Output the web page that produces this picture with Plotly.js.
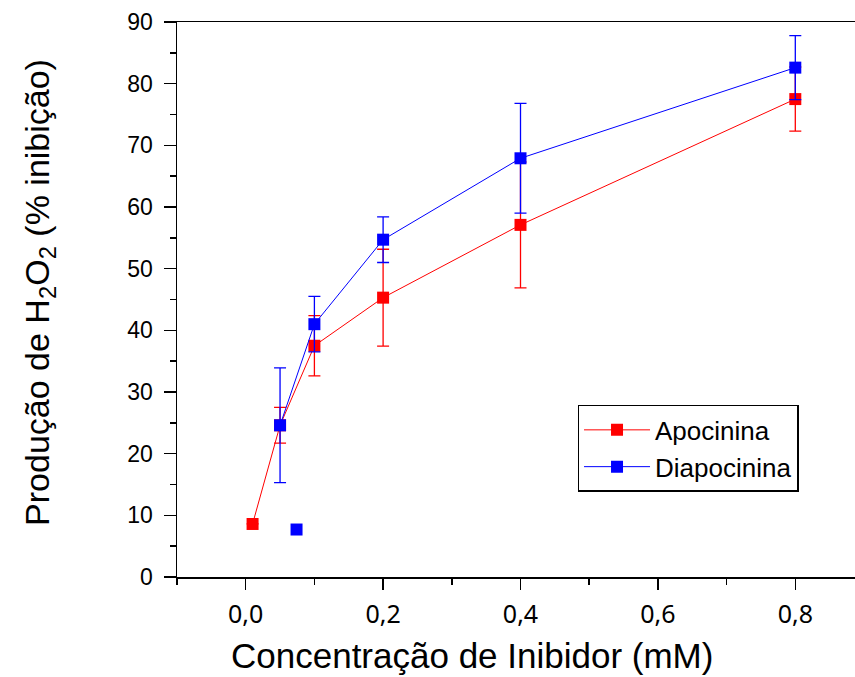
<!DOCTYPE html>
<html>
<head>
<meta charset="utf-8">
<script src="https://cdn.plot.ly/plotly-3.0.1.min.js"></script>
<style>
html,body{margin:0;padding:0;overflow:hidden;background:#fff;}
#chart{width:864px;height:677px;}
</style>
</head>
<body>
<div id="chart"></div>
<script>
// Apocinina
var apoX = [0.01, 0.05, 0.1, 0.2, 0.4, 0.8];
var apoY = [8.6, 24.6, 37.5, 45.3, 57.1, 77.5];
var apoErr = [0, 2.9, 4.9, 7.85, 10.2, 5.2];
// Diapocinina
var diaX = [0.05, 0.1, 0.2, 0.4, 0.8];
var diaY = [24.6, 41.0, 54.7, 67.9, 82.6];
var diaErr = [9.3, 4.5, 3.7, 8.9, 5.2];
// isolated Diapocinina point
var diaExtraX = [0.074];
var diaExtraY = [7.7];

var xTickVals = [0, 0.2, 0.4, 0.6, 0.8];
var xTickText = ['0,0', '0,2', '0,4', '0,6', '0,8'];
var xTitle = 'Concentração de Inibidor (mM)';
var yTitle = 'Produção de H<sub>2</sub>O<sub>2</sub> (% inibição)';

var red = '#ff0000', blue = '#0000ff';
var traces = [
  {x: apoX, y: apoY, name: 'Apocinina', type: 'scatter', mode: 'lines+markers',
   line: {color: red, width: 1}, marker: {symbol: 'square', size: 12, color: red},
   error_y: {type: 'data', array: apoErr, visible: true, color: red, thickness: 1.3, width: 6}},
  {x: diaX, y: diaY, name: 'Diapocinina', type: 'scatter', mode: 'lines+markers',
   line: {color: blue, width: 1}, marker: {symbol: 'square', size: 12, color: blue},
   error_y: {type: 'data', array: diaErr, visible: true, color: blue, thickness: 1.3, width: 6}},
  {x: diaExtraX, y: diaExtraY, name: 'Diapocinina', type: 'scatter', mode: 'markers',
   showlegend: false, marker: {symbol: 'square', size: 12, color: blue}}
];

var fam = 'Liberation Sans, Arial, sans-serif';
var layout = {
  width: 864, height: 677,
  margin: {l: 177, r: 0, t: 22, b: 100},
  paper_bgcolor: '#fff', plot_bgcolor: '#fff',
  font: {family: fam, color: '#000'},
  showlegend: true,
  legend: {x: 0.583, y: 0.31, xanchor: 'left', yanchor: 'top',
           bordercolor: '#000', borderwidth: 1.5, bgcolor: '#fff',
           font: {family: fam, size: 26, color: '#000'}, itemwidth: 66,
           tracegroupgap: 0},
  xaxis: {range: [-0.1, 0.9], tickvals: xTickVals, ticktext: xTickText,
          showgrid: false, zeroline: false, showline: true, linecolor: '#000', linewidth: 1.5,
          mirror: true, ticks: 'outside', ticklen: 11, tickwidth: 1.5, tickcolor: '#000',
          minor: {dtick: 0.1, tick0: 0, ticks: 'outside', ticklen: 6, tickwidth: 1.5, tickcolor: '#000', showgrid: false},
          ticklabelstandoff: 3,
          tickfont: {family: 'Noto Sans, DejaVu Sans, sans-serif', size: 25, color: '#000'}},
  yaxis: {range: [0, 90], dtick: 10, tick0: 0,
          showgrid: false, zeroline: false, showline: true, linecolor: '#000', linewidth: 1.5,
          mirror: true, ticks: 'outside', ticklen: 12, tickwidth: 1.5, tickcolor: '#000',
          minor: {dtick: 5, tick0: 0, ticks: 'outside', ticklen: 6, tickwidth: 1.5, tickcolor: '#000', showgrid: false},
          ticklabelstandoff: 6,
          tickfont: {family: fam, size: 23, color: '#000'}},
  annotations: [
    {text: xTitle, xref: 'paper', yref: 'paper', x: 0.429, y: -0.141,
     xanchor: 'center', yanchor: 'middle', showarrow: false,
     font: {family: fam, size: 35, color: '#000'}},
    {text: yTitle, xref: 'paper', yref: 'paper', x: -0.2, y: 0.513,
     xanchor: 'center', yanchor: 'middle', showarrow: false, textangle: -90,
     font: {family: fam, size: 34, color: '#000'}}
  ]
};

Plotly.newPlot('chart', traces, layout, {displayModeBar: false, staticPlot: true});
</script>
</body>
</html>
